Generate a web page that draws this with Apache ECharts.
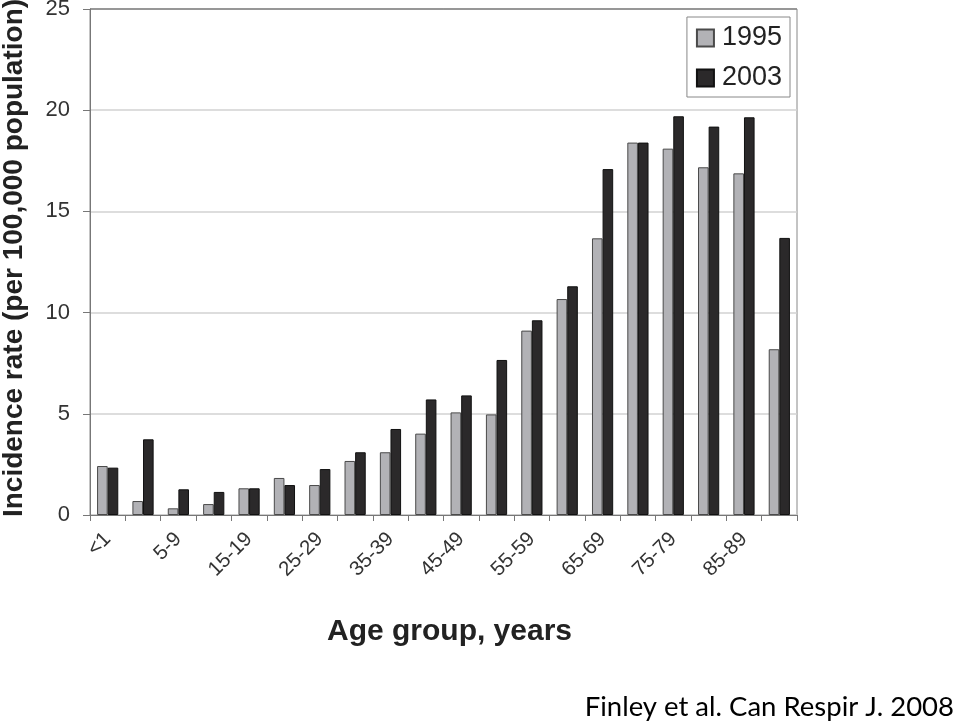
<!DOCTYPE html>
<html>
<head>
<meta charset="utf-8">
<script src="https://cdn.jsdelivr.net/npm/echarts@6/dist/echarts.min.js"></script>
<style>
html,body{margin:0;padding:0;background:#fff;}
#chart{width:959px;height:726px;}
</style>
</head>
<body>
<div id="chart"></div>
<script>
var categories = ['<1','1-4','5-9','10-14','15-19','20-24','25-29','30-34','35-39','40-44','45-49','50-54','55-59','60-64','65-69','70-74','75-79','80-84','85-89','90+'];
var rate1995 = [2.42,0.69,0.33,0.54,1.32,1.83,1.48,2.67,3.10,4.02,5.07,4.97,9.11,10.67,13.67,18.4,18.1,17.18,16.88,8.19];
var rate2003 = [2.34,3.74,1.27,1.14,1.32,1.48,2.27,3.10,4.25,5.71,5.91,7.66,9.62,11.3,17.09,18.4,19.7,19.19,19.65,13.69];
var yTicks = [0,5,10,15,20,25];

var FONT = '"Liberation Sans", Arial, sans-serif';
var chart = echarts.init(document.getElementById('chart'), null, {renderer:'canvas'});
chart.setOption({
  animation:false,
  backgroundColor:'#fff',
  title:{
    text:'Finley et al. Can Respir J. 2008',
    right:0, top:688,
    textStyle:{fontFamily:'Lato, "Open Sans", sans-serif', fontWeight:'normal', fontSize:27.5, color:'#000'}
  },
  legend:{
    data:['1995','2003'],
    orient:'vertical',
    right:169, top:17,
    padding:[7,8,5,9],
    itemWidth:17, itemHeight:17, itemGap:12,
    borderColor:'#888', borderWidth:1,
    icon:'rect',
    textStyle:{fontFamily:FONT, fontSize:27, color:'#222', lineHeight:28, padding:[0,0,0,3]}
  },
  grid:{left:90, right:162, top:9, bottom:211, show:true, borderColor:'#888', borderWidth:1, outerBoundsMode:'none', containLabel:false},
  xAxis:{
    type:'category',
    data:categories,
    name:'Age group, years',
    nameLocation:'middle',
    nameGap:102,
    nameTextStyle:{fontFamily:FONT, fontWeight:'bold', fontSize:30, color:'#222', padding:[0,0,0,12]},
    axisLine:{lineStyle:{color:'#777', width:1}},
    axisTick:{show:true, interval:0, length:6, lineStyle:{color:'#777'}},
    axisLabel:{interval:1, rotate:45, margin:21, fontFamily:FONT, fontSize:20.5, color:'#333'}
  },
  yAxis:{
    type:'value',
    min:0, max:25, interval:5,
    name:'Incidence rate (per 100,000 population)',
    nameLocation:'middle',
    nameGap:62,
    nameRotate:90,
    nameTextStyle:{fontFamily:FONT, fontWeight:'bold', fontSize:28, color:'#222', padding:[0,0,0,8]},
    axisLine:{show:true, lineStyle:{color:'#777', width:1}},
    axisTick:{show:true, length:7, lineStyle:{color:'#777'}},
    axisLabel:{margin:20, fontFamily:FONT, fontSize:22, color:'#333',
      formatter:function(v){return yTicks.indexOf(v)>=0 ? String(v) : '';}},
    splitLine:{show:true, lineStyle:{color:['#d2d2d2','#d2d2d2','#d2d2d2','#d2d2d2','#d2d2d2','#888'], width:1.5}}
  },
  series:[
    {name:'1995', type:'bar', data:rate1995, barGap:'0%', barCategoryGap:'40%',
      itemStyle:{color:'#b2b2b6', borderColor:'#4a4a4a', borderWidth:1}},
    {name:'2003', type:'bar', data:rate2003, barGap:'0%', barCategoryGap:'40%',
      itemStyle:{color:'#2b292a', borderColor:'#111', borderWidth:1}}
  ]
});
</script>
</body>
</html>
